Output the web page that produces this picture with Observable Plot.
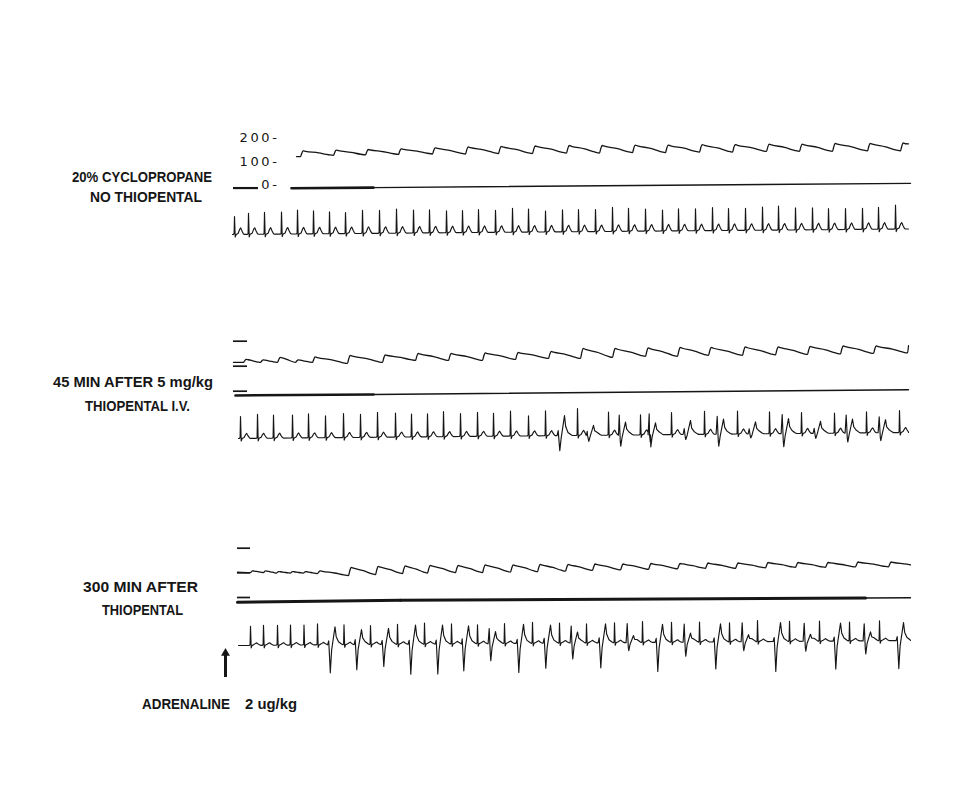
<!DOCTYPE html>
<html><head><meta charset="utf-8">
<script src="https://cdn.jsdelivr.net/npm/d3@7"></script>
<script src="https://cdn.jsdelivr.net/npm/@observablehq/plot@0.6"></script>
<style>
body{margin:0;background:#fff;}
#chart{position:relative;width:971px;height:800px;overflow:hidden;background:#fff;}
#chart svg{position:absolute;left:0;overflow:visible;}
</style></head><body><div id="chart"></div>
<script>
// ---------- DATA (time t in chart units along the paper, pressure in mmHg, ECG in mV) ----------
// Panel 1: 20% cyclopropane, no thiopental
const bp1Up  = [68,101,133,166,200,233,266,300,334,367,400,433,467,500,534,567,600,635,668];
const bp1Sys = [145,148,151,154,158,162,164,166,168,168,170,170,172,172,174,174,177,177,179];
const bp1Dia = [121,126,128,130,132,132,134,134,136,136,138,138,140,140,143,143,143,145,145];
const bp1Ends = [[64,121],[676,175]];
const zero1T = [59,141,678], zero1V = [-14,-11,7];
const calib1 = [-13];
const scaleTicks1 = [200,100,0];
const ecg1T = [2,16,32,49,65,81,97,113,130,147,164,181,197,214,230,246,263,280,296,313,330,346,363,380,396,413,430,446,463,480,496,513,530,546,563,580,596,613,630,646,663];
const ecg1R = [1.8,2.1,2.2,2.2,2.4,2.3,2.2,2.1,2.3,2.3,2.4,2.3,2.3,2.2,2.2,2.3,2.2,2.4,2.3,2.1,2.2,2.2,2.2,2.4,2.3,2.2,2.1,2.2,2.2,2.3,2.2,2.2,2.3,2.4,2.2,2.2,2.1,2.1,2.1,2.2,2.4];
const ecg1Span = [0,676], ecg1Drift = [0,0.55], ecg1Twave = 0.65;

// Panel 2: 45 min after 5 mg/kg thiopental i.v.
const bp2Up  = [11,28,45,63,80,115,150,183,216,250,283,316,348,380,413,445,476,510,543,575,608,641,675];
const bp2Sys = [127,125,135,125,137,143,145,151,151,153,155,159,171,171,173,175,175,177,177,179,181,181,183];
const bp2Dia = [115,115,115,115,115,111,115,123,123,123,127,131,131,135,139,139,143,143,145,147,149,151,153];
const bp2Ends = [[1,115],[676,182]];
const zero2T = [3,141,676], zero2V = [-17,-13,6];
const calib2 = [200,100,0];
const ecg2NT = [8,25,41,60,76,93,111,128,145,163,179,195,211,228,245,261,278,296,313,345,376,408,439,472,505,537,569,602,634,667];
const ecg2NR = [2.2,2.4,2.3,2.3,2.4,2.2,2.4,2.3,2.5,2.4,2.3,2.3,2.5,2.3,2.4,2.3,2.5,2.0,2.5,2.7,2.3,2.0,2.2,2.3,2.3,2.2,2.1,2.0,2.1,2.2];
const ecg2VT = [327,356,388,418,453,486,518,551,583,615,648];
const ecg2VS = [1.5,0.6,1.1,1.2,0.5,1.2,0.4,1.3,0.5,0.9,0.8];
const ecg2VRp = [0.5,0.4,2.0,2.1,0.6,1.8,0.5,1.9,0.5,1.8,1.6];
const ecg2VR2 = [2.0,1.0,1.3,1.2,1.4,1.5,1.2,1.5,1.2,1.4,1.3];
const ecg2Span = [6,676], ecg2Drift = [0,0.6], ecg2Twave = 0.5;

// Panel 3: 300 min after thiopental, adrenaline 2 ug/kg
const bp3Up  = [18,31,44,58,71,85,116,143,170,195,223,250,278,305,333,360,388,416,445,473,503,533,563,593,623,656];
const bp3Sys = [108,108,105,105,105,108,122,126,128,130,130,132,132,134,134,136,136,138,138,140,140,142,142,142,144,144];
const bp3Dia = [101,101,99,99,99,97,89,93,97,99,101,101,103,105,107,110,112,114,116,118,118,120,122,122,124,124];
const bp3Ends = [[5,103],[678,132]];
const zero3T = [5,168,633,678], zero3V = [-19,-11,-2,-1];
const calib3 = [200,100,0];
const ecg3NT = [18,31,45,58,71.5,85,111.5,138,165,192,219,245,272,300,327,354,382,410,439,467,497,525,557,587,617,647];
const ecg3NR = [1.9,2.0,2.0,2.0,2.0,2.1,2.0,1.9,2.0,2.1,2.0,1.9,2.0,2.1,2.0,1.9,2.0,2.1,2.0,2.0,1.9,2.1,2.0,2.0,1.9,2.0];
const ecg3VT = [97.5,124,151,178,205,231,258,286,313,340,368,396,425,453,483,511,543,573,603,633,666];
const ecg3VS = [2.8,2.5,2.2,3.0,3.0,2.7,1.7,2.9,2.5,1.6,2.5,0.8,2.9,1.4,2.7,0.9,3.0,1.0,2.8,1.3,2.8];
const ecg3VRp = [0.4,0.5,0.4,0.4,0.4,0.5,1.5,0.4,0.5,1.7,0.5,1.9,0.4,1.8,0.4,1.9,0.4,1.8,0.4,1.7,0.4];
const ecg3VR2 = [1.8,1.5,1.6,1.9,1.9,1.8,1.2,1.9,1.8,1.1,1.9,0.7,1.8,0.9,1.8,0.7,1.9,0.7,1.8,0.9,1.8];
const ecg3Span = [6,678], ecg3Drift = [0,0.5], ecg3Twave = 0.25;
const adrenalineT = [-7];

const panelLabels = [
  ["20% CYCLOPROPANE", 72, 181.5, 140],
  ["NO THIOPENTAL", 90, 201.5, 112],
  ["45 MIN AFTER 5 mg/kg", 53, 387, 160],
  ["THIOPENTAL I.V.", 85, 410.5, 105],
  ["300 MIN AFTER", 83, 592, 115],
  ["THIOPENTAL", 102, 615, 81],
  ["ADRENALINE", 142, 708.5, 88],
  ["2 ug/kg", 245, 708.5, 52]
];

// ---------- BUILDERS ----------
function bpPoints(up, sys, dia, ends) {
  const pts = [{t: ends[0][0], v: ends[0][1]}];
  for (let i = 0; i < up.length; i++) {
    const u = up[i], s = sys[i];
    const last = i + 1 >= up.length;
    const u2 = last ? u + (u - up[i - 1]) : up[i + 1];
    const d2 = last ? dia[i] : dia[i + 1];
    const P = u2 - u, A = s - d2;
    pts.push({t: u, v: dia[i]});
    pts.push({t: u + Math.min(1.2, 0.07 * P), v: dia[i] + 0.55 * (s - dia[i])});
    pts.push({t: u + Math.min(2.6, 0.15 * P), v: s});
    pts.push({t: u + Math.min(5, 0.28 * P), v: s - 0.1 * A});
    pts.push({t: u + 0.55 * P, v: s - 0.45 * A});
    pts.push({t: u + 0.85 * P, v: s - 0.86 * A});
  }
  const out = pts.filter(p => p.t < ends[1][0]);
  out.push({t: ends[1][0], v: ends[1][1]});
  return out;
}
const tplN = (R, T) => [[-1.2,0],[-0.4,0.08],[0,R],[0.7,-0.25],[1.6,0],[3.6,0.1],[5.2,T*0.8],[6.2,T],[7.6,T*0.5],[9,0.05],[10,0]];
const tplV = (Rp, S, R2) => [[-2.4,0],[-1.3,Rp],[-0.2,-S*0.6],[0.3,-S],[1.6,-S*0.2],[5,R2],[6.2,R2*0.45],[8.5,0.3],[11.5,0.08],[13,0]];
function ecgPoints(span, drift, beats) {
  let pts = [{t: span[0], v: 0}];
  for (const b of beats) {
    const tpl = b.type === "N" ? tplN(b.R, b.T) : tplV(b.Rp, b.S, b.R2);
    for (const [dt, v] of tpl) pts.push({t: b.t + dt, v});
  }
  pts.push({t: span[1], v: 0});
  pts = pts.filter(p => p.t >= span[0] && p.t <= span[1]).sort((a, b) => a.t - b.t);
  return pts.map(p => ({t: p.t, v: p.v + drift[0] + (drift[1] - drift[0]) * (p.t - span[0]) / (span[1] - span[0])}));
}
const nBeats = (T, R, tw) => T.map((t, i) => ({t, type: "N", R: R[i], T: tw}));
const vBeats = (T, S, Rp, R2) => T.map((t, i) => ({t, type: "V", S: S[i], Rp: Rp[i], R2: R2[i]}));
const segs = (T, V) => T.slice(1).map((t, i) => [{t: T[i], v: V[i]}, {t, v: V[i + 1]}]);

// ---------- DRAW ----------
const chart = document.getElementById("chart");
const INK = "#161616";
const X = {domain: [0, 690], range: [232, 922], axis: null};
function mk(top, height, y, marks, extraStyle = {}) {
  const svg = Plot.plot({width: 971, height, margin: 0, x: X, y: {...y, axis: null},
    style: {background: "transparent", overflow: "visible", ...extraStyle}, marks});
  svg.style.position = "absolute"; svg.style.top = top + "px"; svg.style.left = "0px";
  chart.append(svg);
}
const traceOpts = {x: "t", y: "v", stroke: INK, strokeWidth: 1.15, strokeLinejoin: "round", strokeLinecap: "round"};
const bpOpts = {...traceOpts, curve: "monotone-x", strokeWidth: 1.3};
function zeroMarks(T, V, thickUntilIdx, thickW) {
  const s = segs(T, V);
  return s.map((seg, i) => Plot.line(seg, {x: "t", y: "v", stroke: INK, strokeWidth: i < thickUntilIdx ? thickW : 1.4}));
}

// Panel 1 BP
mk(120, 80, {domain: [0, 200], range: [64.5, 17.5]}, [
  Plot.text(scaleTicks1, {x: () => 47, y: d => d, text: d => `${d}-`, textAnchor: "end", fontSize: 13, fill: INK, fontFamily: "DejaVu Sans"}),
  Plot.ruleY(calib1, {y: d => d, x1: () => 1, x2: () => 26, stroke: INK, strokeWidth: 2.2}),
  ...zeroMarks(zero1T, zero1V, 1, 2.6),
  Plot.line(bpPoints(bp1Up, bp1Sys, bp1Dia, bp1Ends), bpOpts)
], {letterSpacing: "2.6px"});
// Panel 1 ECG
mk(195, 50, {domain: [0, 1], range: [39, 29]}, [
  Plot.line(ecgPoints(ecg1Span, ecg1Drift, nBeats(ecg1T, ecg1R, ecg1Twave)), traceOpts)
]);

// Panel 2 BP
mk(330, 75, {domain: [0, 200], range: [60.7, 10.7]}, [
  Plot.ruleY(calib2, {y: d => d, x1: () => 1, x2: () => 15, stroke: INK, strokeWidth: 1.7}),
  ...zeroMarks(zero2T, zero2V, 1, 2.6),
  Plot.line(bpPoints(bp2Up, bp2Sys, bp2Dia, bp2Ends), bpOpts)
]);
// Panel 2 ECG
mk(400, 60, {domain: [0, 1], range: [38, 28]}, [
  Plot.line(ecgPoints(ecg2Span, ecg2Drift, [...nBeats(ecg2NT, ecg2NR, ecg2Twave), ...vBeats(ecg2VT, ecg2VS, ecg2VRp, ecg2VR2)]), traceOpts)
]);

// Panel 3 BP
mk(535, 75, {domain: [0, 200], range: [62, 12.7]}, [
  Plot.ruleY(calib3, {y: d => d, x1: () => 5, x2: () => 18, stroke: INK, strokeWidth: 1.7}),
  ...zeroMarks(zero3T, zero3V, 2, 3.1),
  Plot.line(bpPoints(bp3Up, bp3Sys, bp3Dia, bp3Ends), bpOpts)
]);
// Panel 3 ECG + adrenaline arrow
mk(610, 75, {domain: [0, 1], range: [35, 25]}, [
  Plot.line(ecgPoints(ecg3Span, ecg3Drift, [...nBeats(ecg3NT, ecg3NR, ecg3Twave), ...vBeats(ecg3VT, ecg3VS, ecg3VRp, ecg3VR2)]), traceOpts),
  Plot.ruleX(adrenalineT, {x: d => d, y1: () => -3.2, y2: () => -0.9, stroke: INK, strokeWidth: 3}),
  Plot.dot(adrenalineT, {x: d => d, y: () => -0.76, symbol: "triangle", r: 3.3, fill: INK, stroke: "none"})
]);

// Panel labels (text)
const lab = d3.create("svg").attr("width", 971).attr("height", 800).style("top", "0px")
  .attr("font-family", "Liberation Sans, Arial, sans-serif").attr("font-weight", "bold").attr("font-size", 14).attr("fill", INK);
for (const [txt, x, y, w] of panelLabels) {
  lab.append("text").attr("x", x).attr("y", y).attr("textLength", w).attr("lengthAdjust", "spacingAndGlyphs").text(txt);
}
chart.append(lab.node());
</script></body></html>
